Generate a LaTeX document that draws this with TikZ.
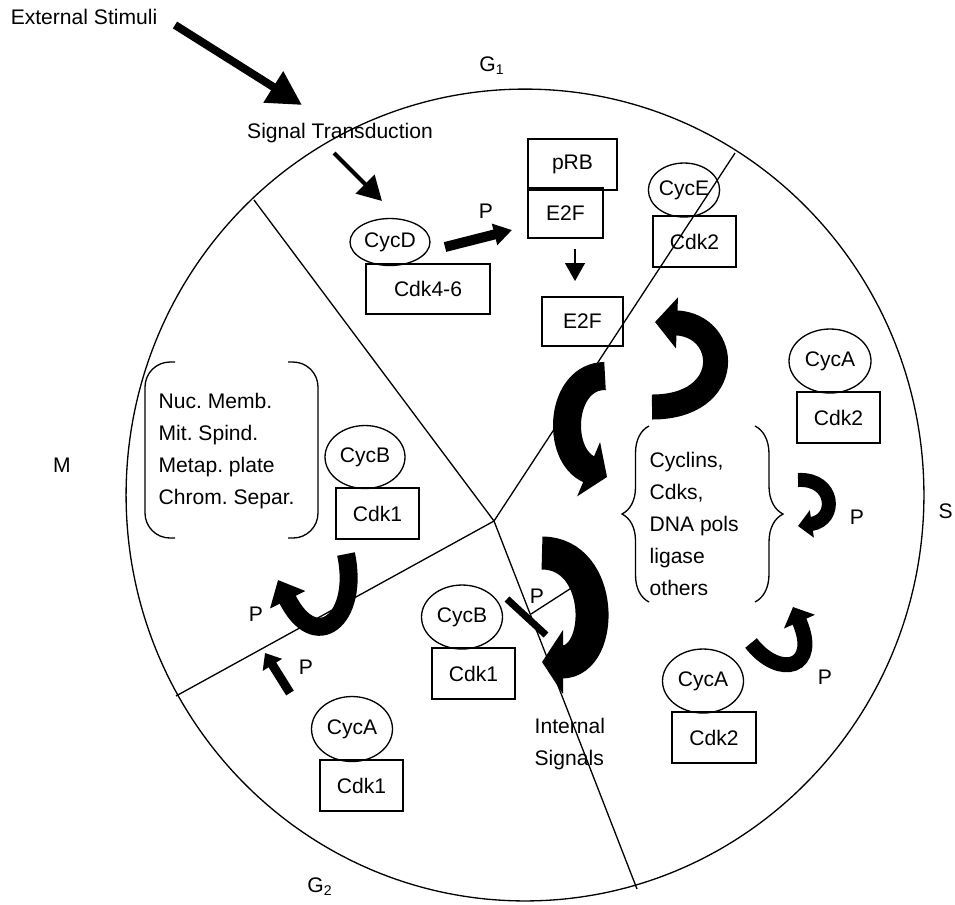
\documentclass[tikz,border=0pt]{standalone}
\usepackage{fontspec}
\setmainfont{Liberation Sans}
\usetikzlibrary{arrows.meta,shapes.geometric,decorations.pathreplacing}

\begin{document}
\begin{tikzpicture}[x=0.02cm, y=-0.02cm, line width=0.75pt,
  every node/.style={font=\fontsize{12}{18.2}\selectfont},
  cyc/.style={draw, ellipse, inner sep=0pt, minimum width=1.62cm, minimum height=1.28cm},
  cdk/.style={draw, rectangle, inner sep=0pt, minimum width=1.66cm, minimum height=1.02cm},
  curl/.style n args={3}{line width=#1, -{Triangle[width=#2,length=#3]}},
  lst/.style={align=left, anchor=west, inner sep=0pt}]
\useasboundingbox (0,0) rectangle (955,904);

%--- ciclo cellulare ---
\draw (525,495) ellipse [x radius=7.98cm, y radius=8.12cm];
\coordinate (hub) at (494,521);
\coordinate (rimA) at (254,200);
\coordinate (rimB) at (735,153);
\coordinate (rimC) at (176,696);
\coordinate (rimD) at (637,889);
\foreach \r in {rimA,rimB,rimC,rimD}
  \draw (hub) -- (\r);

% fasi
\node (gone) at (492,66) {G\textsubscript{1}};
\node (mlab) at (62,465) {M};
\node[anchor=east, inner sep=1pt] (slab) at (955,511) {S};
\node (gtwo) at (320,887) {G\textsubscript{2}};

%--- G1 ---
\node (stim) at (84,17) {External Stimuli};
\node (sigtr) at (340,133) {Signal Transduction};
\coordinate (stimA) at (175,25);
\coordinate (stimB) at (302,105);
\draw[line width=0.16cm, -{Triangle[width=0.7cm,length=0.68cm]}] (stimA) -- (stimB);
\coordinate (sigA) at (334,153);
\coordinate (sigB) at (382,201);
\draw[line width=0.08cm, -{Triangle[width=0.52cm,length=0.48cm]}] (sigA) -- (sigB);

\node[cdk, minimum width=2.48cm, minimum height=1.0cm] (cdkd) at (428,289) {Cdk4-6};
\node[cyc, minimum width=1.6cm, minimum height=0.94cm] (cycd) at (390,242) {CycD};
\node[cdk, minimum width=1.78cm] (prb) at (572.5,164.5) {pRB};
\node[cdk, minimum width=1.5cm, minimum height=0.98cm] (efb) at (565.5,213.5) {E2F};
\draw[line width=1.8pt] (efb.north west) -- (efb.north east);
\node[cdk, minimum width=1.62cm, minimum height=0.98cm] (eff) at (582.5,321.5) {E2F};
\coordinate (phA) at (445,247);
\coordinate (phB) at (512,230);
\draw[line width=0.2cm, -{Triangle[width=0.42cm,length=0.36cm]}] (phA) -- (phB);
\coordinate (relA) at (575,249);
\coordinate (relB) at (575,281);
\draw[-{Triangle[width=0.4cm,length=0.36cm]}] (relA) -- (relB);

\node[cdk] (cdke) at (694.5,241.5) {Cdk2};
\node[cyc, minimum width=1.28cm, minimum height=1.08cm] (cyce) at (684,190) {CycE};

%--- S ---
\node[cdk] (cdkas) at (838.5,417.5) {Cdk2};
\node[cyc, minimum width=1.64cm] (cycas) at (830,361) {CycA};
\node[lst] (sprots) at (649,523.5) {Cyclins,\\Cdks,\\DNA pols\\ligase\\others};
\draw[decorate, decoration={brace, amplitude=0.54cm}] (649,602) -- (649,426);
\draw[decorate, decoration={brace, amplitude=0.56cm}] (755,426) -- (755,602);
\node[cdk, minimum width=1.68cm] (cdkal) at (714,737.5) {Cdk2};
\node[cyc] (cycal) at (703,681) {CycA};

% frecce curve
\draw[curl={0.56cm}{1.16cm}{0.4cm}] (605,376) .. controls (560,376) and (555,455) .. (607,477);
\draw[curl={0.5cm}{1.0cm}{0.44cm}] (652,407) .. controls (735,407) and (730,325) .. (655,322);
\draw[curl={0.28cm}{0.54cm}{0.28cm}] (798,480) .. controls (835,478) and (838,520) .. (798,526);
\draw[curl={0.3cm}{0.66cm}{0.32cm}] (751,643) .. controls (780,680) and (820,668) .. (793,607);
\draw[curl={0.66cm}{1.26cm}{0.42cm}] (542,553) .. controls (605,553) and (605,662) .. (542,662);

%--- M ---
\node[lst] (mtasks) at (158,451) {Nuc.\ Memb.\\Mit.\ Spind.\\Metap.\ plate\\Chrom.\ Separ.};
\draw[rounded corners=0.5cm] (175,362) -- (145,362) -- (145,538) -- (175,538);
\draw[rounded corners=0.5cm] (288,362) -- (318,362) -- (318,538) -- (288,538);
\node[cdk] (cdkbm) at (377.5,513.5) {Cdk1};
\node[cyc, minimum width=1.6cm, minimum height=1.26cm] (cycbm) at (365,457) {CycB};
\draw[curl={0.36cm}{0.76cm}{0.44cm}] (346,554) .. controls (360,620) and (315,655) .. (278,580);
\draw[curl={0.18cm}{0.44cm}{0.28cm}] (290,693) -- (265,653);

%--- G2 ---
\node[cdk] (cdkbg) at (473.5,673.5) {Cdk1};
\node[cyc] (cycbg) at (462,617) {CycB};
\node[cdk] (cdkag) at (361.5,785.5) {Cdk1};
\node[cyc, minimum height=1.3cm] (cycag) at (352,729) {CycA};
\node[lst] (intsig) at (534,744) {Internal\\Signals};
% inibizione
\coordinate (inhA) at (576,585);
\coordinate (inhB) at (531,614);
\draw (inhA) -- (inhB);
\coordinate (barA) at (507,599);
\coordinate (barB) at (546,635);
\draw[line width=0.14cm] (barA) -- (barB);

% fosforilazioni
\foreach \n/\px/\py in {a/486/211, b/256/614, c/306/667, d/537/596, e/857/517, f/825/677}
  \node (p\n) at (\px,\py) {P};
\end{tikzpicture}
\end{document}
